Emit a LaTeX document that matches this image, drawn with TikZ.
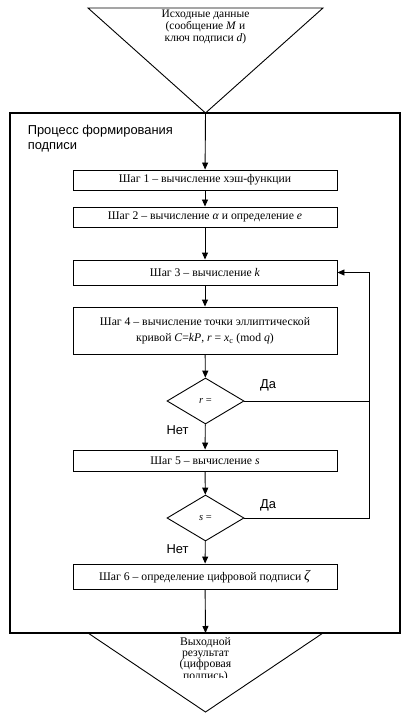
\documentclass[tikz,border=0pt]{standalone}
\usepackage{fontspec}
\setmainfont{Liberation Serif}
\newfontfamily\labelfont{Liberation Sans}
\usetikzlibrary{arrows.meta,shapes.geometric}

\begin{document}
\begin{tikzpicture}[
  x=1pt,y=-1pt,line width=0.9pt,
  stepbox/.style={draw,minimum width=264pt,inner sep=0pt,align=center,font=\fontsize{11.7}{16}\selectfont},
  decision/.style={draw,diamond,minimum width=77pt,minimum height=46pt,inner sep=0pt,font=\fontsize{10.5}{12}\selectfont},
  flow/.style={-{Triangle[length=7pt,width=6pt]}},
  answer/.style={font=\labelfont\fontsize{12.9}{15}\selectfont},
  terminal/.style={align=center,font=\fontsize{11.5}{12}\selectfont}
]
  \useasboundingbox (0,0) rectangle (412,719);
  % outer frame and triangles
  \draw[line width=1.8pt] (10,113) rectangle (400,633);
  \draw (88,8) -- (323,8) -- (205.5,113) -- cycle;
  \draw (88,633) -- (323,633) -- (205.5,712) -- cycle;
  \node[terminal] (input) at (205.5,27) {Исходные данные\\(сообщение \textit{M} и\\ключ подписи \textit{d})};
  \begin{scope}
    \clip (80,634) rectangle (330,677);
    \node[terminal,font=\fontsize{11.7}{10.5}\selectfont,anchor=north] (output) at (205.5,634) {Выходной\\результат\\(цифровая\\подпись)};
  \end{scope}
  \node[answer,anchor=north west,align=left] (title) at (24,121) {Процесс формирования\\подписи};
  \coordinate (inApex) at (205.5,113);
  \coordinate (outTop) at (205.5,633);

  % steps
  \node[stepbox,minimum height=20pt] (step1) at (205,180) {Шаг 1 – вычисление хэш-функции};
  \node[stepbox,minimum height=20pt] (step2) at (205,217) {Шаг 2 – вычисление \textit{α} и определение \textit{e}};
  \node[stepbox,minimum height=25pt] (step3) at (205,272.5) {Шаг 3 – вычисление \textit{k}};
  \node[stepbox,minimum height=47pt] (step4) at (205,330.5) {Шаг 4 – вычисление точки эллиптической\\кривой \textit{C}=\textit{kP}, \textit{r} = \textit{x}\textsubscript{c} (mod \textit{q})};
  \node[decision] (check1) at (205.5,401) {\textit{r} =};
  \node[stepbox,minimum height=21pt] (step5) at (205,460.5) {Шаг 5 – вычисление \textit{s}};
  \node[decision] (check2) at (205.5,518) {\textit{s} =};
  \node[stepbox,minimum height=25pt] (step6) at (205,576.5) {Шаг 6 – определение цифровой подписи {\Large\textit{ζ}}};

  % answers
  \node[answer] (yes1) at (268,385) {Да};
  \node[answer] (no1) at (177.5,430) {Нет};
  \node[answer] (yes2) at (268,505) {Да};
  \node[answer] (no2) at (177.5,549) {Нет};

  % connectors
  \coordinate (loopTop) at (369,272.5);
  \draw[flow] (inApex) -- (step1);
  \draw[flow] (step1) -- (step2);
  \draw[flow] (step2) -- (step3);
  \draw[flow] (step3) -- (step4);
  \draw[flow] (step4) -- (check1);
  \draw[flow] (check1) -- (step5);
  \draw[flow] (step5) -- (check2);
  \draw[flow] (check2) -- (step6);
  \draw[flow] (step6) -- (outTop);
  \draw[flow] (check2.east) -| (loopTop) -- (step3.east);
  \draw (check1.east) -- (check1.east -| loopTop);
\end{tikzpicture}
\end{document}
